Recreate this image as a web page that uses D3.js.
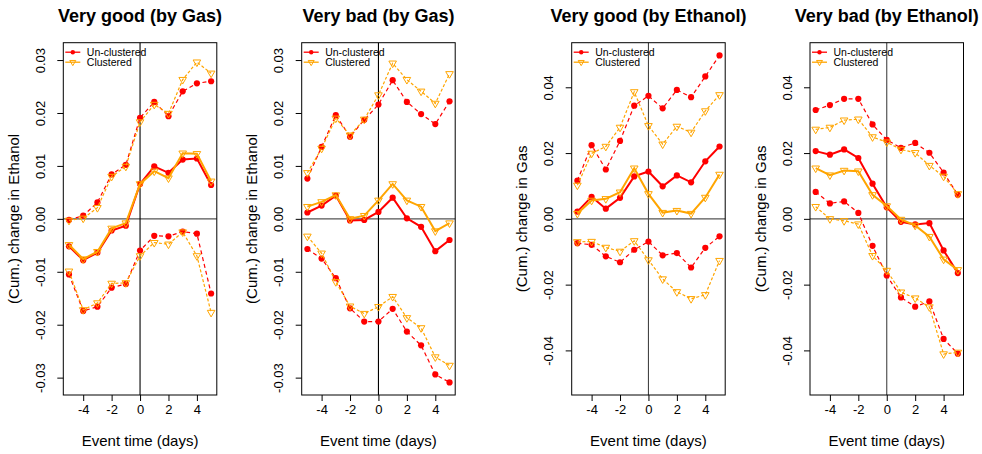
<!DOCTYPE html>
<html>
<head>
<meta charset="utf-8">
<script src="https://cdn.jsdelivr.net/npm/d3@7"></script>
<style>
  html, body { margin: 0; padding: 0; background: #fff; }
  svg { display: block; font-family: "Liberation Sans", Arial, Helvetica, sans-serif; }
</style>
</head>
<body>
<svg id="chart" width="982" height="454"></svg>
<script>
// Event-time grid (days)
const eventDays = [-5, -4, -3, -2, -1, 0, 1, 2, 3, 4, 5];
const xTicks = [-4, -2, 0, 2, 4];

// Panel titles and y-axis titles
const panelTitles = ["Very good (by Gas)", "Very bad (by Gas)", "Very good (by Ethanol)", "Very bad (by Ethanol)"];
const yTitles = ["(Cum.) change in Ethanol", "(Cum.) change in Ethanol", "(Cum.) change in Gas", "(Cum.) change in Gas"];
const yTicksEthanol = [-0.03, -0.02, -0.01, 0.00, 0.01, 0.02, 0.03];
const yTicksGas = [-0.04, -0.02, 0.00, 0.02, 0.04];
const yLimits = [0.032, 0.032, 0.0515, 0.0515];

// Very good (by Gas): estimate with un-clustered and clustered bands
const vgGasEstU   = [-0.0052, -0.0078, -0.0064, -0.0022, -0.0013, 0.0066, 0.0099, 0.0087, 0.0112, 0.0114, 0.0064];
const vgGasUpperU = [-0.0002, 0.0006, 0.0031, 0.0084, 0.0102, 0.0191, 0.0221, 0.0194, 0.0241, 0.0256, 0.0260];
const vgGasLowerU = [-0.0105, -0.0174, -0.0166, -0.0130, -0.0123, -0.0060, -0.0032, -0.0033, -0.0024, -0.0028, -0.0141];
const vgGasEstC   = [-0.0049, -0.0076, -0.0062, -0.0018, -0.0008, 0.0066, 0.0090, 0.0077, 0.0124, 0.0123, 0.0071];
const vgGasUpperC = [-0.0003, 0.0001, 0.0021, 0.0080, 0.0099, 0.0183, 0.0216, 0.0199, 0.0263, 0.0296, 0.0275];
const vgGasLowerC = [-0.0099, -0.0172, -0.0159, -0.0122, -0.0121, -0.0070, -0.0045, -0.0048, -0.0025, -0.0070, -0.0177];

// Very bad (by Gas)
const vbGasEstU   = [0.0012, 0.0025, 0.0044, -0.0003, -0.0002, 0.0013, 0.0040, 0.0001, -0.0015, -0.0061, -0.0040];
const vbGasUpperU = [0.0076, 0.0136, 0.0196, 0.0155, 0.0187, 0.0216, 0.0262, 0.0221, 0.0198, 0.0179, 0.0222];
const vbGasLowerU = [-0.0057, -0.0075, -0.0112, -0.0169, -0.0194, -0.0194, -0.0170, -0.0213, -0.0239, -0.0294, -0.0309];
const vbGasEstC   = [0.0023, 0.0032, 0.0045, 0.0000, 0.0006, 0.0035, 0.0066, 0.0035, 0.0023, -0.0023, -0.0008];
const vbGasUpperC = [0.0087, 0.0133, 0.0190, 0.0158, 0.0188, 0.0234, 0.0294, 0.0263, 0.0241, 0.0218, 0.0274];
const vbGasLowerC = [-0.0033, -0.0065, -0.0119, -0.0165, -0.0179, -0.0166, -0.0147, -0.0187, -0.0206, -0.0261, -0.0277];

// Very good (by Ethanol)
const vgEthEstU   = [0.0022, 0.0067, 0.0031, 0.0064, 0.0129, 0.0144, 0.0099, 0.0132, 0.0111, 0.0175, 0.0220];
const vgEthUpperU = [0.0116, 0.0224, 0.0150, 0.0237, 0.0344, 0.0374, 0.0336, 0.0392, 0.0370, 0.0433, 0.0497];
const vgEthLowerU = [-0.0074, -0.0079, -0.0114, -0.0132, -0.0094, -0.0069, -0.0111, -0.0104, -0.0148, -0.0088, -0.0053];
const vgEthEstC   = [0.0016, 0.0056, 0.0061, 0.0081, 0.0154, 0.0076, 0.0019, 0.0025, 0.0016, 0.0065, 0.0135];
const vgEthUpperC = [0.0102, 0.0199, 0.0220, 0.0278, 0.0386, 0.0283, 0.0227, 0.0281, 0.0263, 0.0328, 0.0377];
const vgEthLowerC = [-0.0070, -0.0069, -0.0087, -0.0099, -0.0067, -0.0125, -0.0183, -0.0222, -0.0243, -0.0231, -0.0127];

// Very bad (by Ethanol)
const vbEthEstU   = [0.0206, 0.0195, 0.0211, 0.0185, 0.0107, 0.0035, -0.0009, -0.0017, -0.0013, -0.0096, -0.0165];
const vbEthUpperU = [0.0331, 0.0346, 0.0365, 0.0365, 0.0287, 0.0240, 0.0216, 0.0231, 0.0201, 0.0141, 0.0073];
const vbEthLowerU = [0.0082, 0.0047, 0.0053, 0.0018, -0.0082, -0.0172, -0.0239, -0.0267, -0.0251, -0.0365, -0.0410];
const vbEthEstC   = [0.0154, 0.0133, 0.0147, 0.0145, 0.0073, 0.0039, -0.0002, -0.0020, -0.0054, -0.0123, -0.0155];
const vbEthUpperC = [0.0272, 0.0278, 0.0300, 0.0303, 0.0249, 0.0233, 0.0211, 0.0201, 0.0162, 0.0129, 0.0076];
const vbEthLowerC = [0.0037, 0.0000, -0.0006, -0.0016, -0.0112, -0.0157, -0.0223, -0.0241, -0.0268, -0.0411, -0.0406];

const legendLabels = ["Un-clustered", "Clustered"];

// ---- layout & style ----
const RED = "#ff0000", ORANGE = "#ffa500";
const panelLeft = [63.3, 301.7, 571.7, 810];
const boxW = 153.5, boxTop = 42.7, boxBottom = 395;

const panels = [
  { u: [vgGasLowerU, vgGasEstU, vgGasUpperU], c: [vgGasLowerC, vgGasEstC, vgGasUpperC], ticks: yTicksEthanol },
  { u: [vbGasLowerU, vbGasEstU, vbGasUpperU], c: [vbGasLowerC, vbGasEstC, vbGasUpperC], ticks: yTicksEthanol },
  { u: [vgEthLowerU, vgEthEstU, vgEthUpperU], c: [vgEthLowerC, vgEthEstC, vgEthUpperC], ticks: yTicksGas },
  { u: [vbEthLowerU, vbEthEstU, vbEthUpperU], c: [vbEthLowerC, vbEthEstC, vbEthUpperC], ticks: yTicksGas }
];

const svg = d3.select("#chart");
const fmtTick = v => (v < 0 ? "-" : "") + Math.abs(v).toFixed(2);
const triPath = (cx, cy, s) => {
  const h = s * 0.866;
  return `M${cx - s / 2},${cy - h / 3}L${cx + s / 2},${cy - h / 3}L${cx},${cy + 2 * h / 3}Z`;
};

panels.forEach((p, i) => {
  const left = panelLeft[i];
  const x = d3.scaleLinear().domain([-5.4, 5.4]).range([left, left + boxW]);
  const lim = yLimits[i] * 1.04;
  const y = d3.scaleLinear().domain([-lim, lim]).range([boxBottom, boxTop]);
  const g = svg.append("g");
  const cx = left + boxW / 2;

  // title
  g.append("text").attr("x", cx).attr("y", 22).attr("text-anchor", "middle")
    .attr("font-size", 18).attr("font-weight", "bold").text(panelTitles[i]);

  // reference lines at zero
  g.append("line").attr("x1", left).attr("x2", left + boxW).attr("y1", y(0)).attr("y2", y(0))
    .attr("stroke", "#555").attr("stroke-width", 1.3);
  g.append("line").attr("x1", x(0)).attr("x2", x(0)).attr("y1", boxTop).attr("y2", boxBottom)
    .attr("stroke", i < 2 ? "#000" : "#444").attr("stroke-width", 1.1);

  // series: un-clustered (red) first, clustered (orange) on top
  const line = d3.line().x((d, k) => x(eventDays[k])).y(d => y(d));
  const drawSet = (set, color, dash, marker) => {
    set.forEach((vals, k) => {
      const isEst = k === 1;
      g.append("path").attr("d", line(vals)).attr("fill", "none")
        .attr("stroke", color).attr("stroke-width", isEst ? 2 : 1.2)
        .attr("stroke-dasharray", isEst ? null : dash);
      vals.forEach((v, j) => {
        if (marker === "dot") {
          g.append("circle").attr("cx", x(eventDays[j])).attr("cy", y(v)).attr("r", 3.1).attr("fill", color);
        } else {
          g.append("path").attr("d", triPath(x(eventDays[j]), y(v), 7.6))
            .attr("fill", "none").attr("stroke", color).attr("stroke-width", 1);
        }
      });
    });
  };
  drawSet(p.u, RED, "4,3", "dot");
  drawSet(p.c, ORANGE, "3,2", "tri");

  // plot box
  g.append("rect").attr("x", left).attr("y", boxTop).attr("width", boxW).attr("height", boxBottom - boxTop)
    .attr("fill", "none").attr("stroke", "#000").attr("stroke-width", 1);

  // x axis
  const xAxis = g.append("g").attr("transform", `translate(0,${boxBottom})`)
    .call(d3.axisBottom(x).tickValues(xTicks).tickSize(6).tickPadding(4).tickFormat(v => v < 0 ? "-" + Math.abs(v) : String(v)));
  xAxis.select(".domain").remove();
  xAxis.selectAll("text").attr("font-size", 13).attr("font-family", null).attr("fill", "#000");
  xAxis.selectAll("line").attr("stroke", "#000");

  // y axis with labels parallel to the axis
  const yAxis = g.append("g").attr("transform", `translate(${left},0)`)
    .call(d3.axisLeft(y).tickValues(p.ticks).tickSize(6).tickFormat(fmtTick));
  yAxis.select(".domain").remove();
  yAxis.selectAll("line").attr("stroke", "#000");
  yAxis.selectAll("text")
    .attr("x", null).attr("dy", null).attr("font-family", null).attr("font-size", 13).attr("fill", "#000")
    .attr("text-anchor", "middle")
    .attr("transform", "translate(-18.5,0) rotate(-90)");

  // axis titles
  g.append("text").attr("x", cx).attr("y", 446).attr("text-anchor", "middle")
    .attr("font-size", 15).text("Event time (days)");
  g.append("text").attr("transform", `translate(${left - 44.5},${(boxTop + boxBottom) / 2}) rotate(-90)`)
    .attr("text-anchor", "middle").attr("font-size", 15).text(yTitles[i]);

  // legend
  const lg = g.append("g");
  [[RED, "dot"], [ORANGE, "tri"]].forEach(([color, m], k) => {
    const ly = boxTop + 9.5 + k * 10;
    lg.append("line").attr("x1", left + 2).attr("x2", left + 17).attr("y1", ly).attr("y2", ly)
      .attr("stroke", color).attr("stroke-width", 1.3);
    if (m === "dot") lg.append("circle").attr("cx", left + 9.5).attr("cy", ly).attr("r", 2.2).attr("fill", color);
    else lg.append("path").attr("d", triPath(left + 9.5, ly, 6)).attr("fill", "none").attr("stroke", color);
    lg.append("text").attr("x", left + 23.5).attr("y", ly).attr("dy", "0.35em")
      .attr("font-size", 10.5).text(legendLabels[k]);
  });
});
</script>
</body>
</html>
